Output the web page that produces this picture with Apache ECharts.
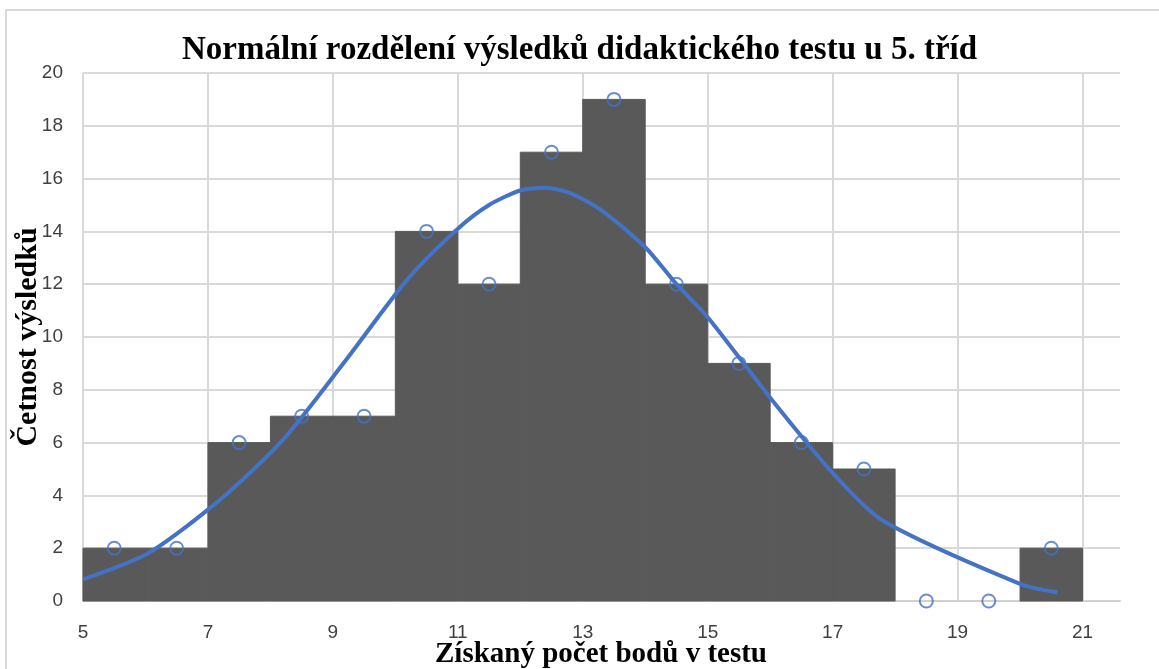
<!DOCTYPE html>
<html>
<head>
<meta charset="utf-8">
<script src="https://cdn.jsdelivr.net/npm/echarts@6/dist/echarts.min.js"></script>
<style>
  html, body { margin: 0; padding: 0; background: #fff; }
  #chart { width: 1159px; height: 669px; }
</style>
</head>
<body>
<div id="chart"></div>
<script>
// histogram classes (lower bound) and counts
var classStart = [5, 6, 7, 8, 9, 10, 11, 12, 13, 14, 15, 16, 17, 18, 19, 20];
var classCount = [2, 2, 6, 7, 7, 14, 12, 17, 19, 12, 9, 6, 5, 0, 0, 2];
// observed points (class midpoints)
var pointX = [5.5, 6.5, 7.5, 8.5, 9.5, 10.5, 11.5, 12.5, 13.5, 14.5, 15.5, 16.5, 17.5, 18.5, 19.5, 20.5];
// normal curve
var curveX = [5, 6.05, 7.2, 8.2, 9.2, 10.2, 11, 11.5, 12, 12.4, 12.8, 13.3, 14, 14.5, 15, 16, 17, 17.8, 20, 20.6];
var curveY = [0.82, 1.82, 3.85, 6.1, 9.1, 12.2, 14.1, 15.0, 15.55, 15.65, 15.45, 14.8, 13.4, 12.0, 10.75, 7.7, 4.85, 3.05, 0.65, 0.32];
var yTicks = [0, 2, 4, 6, 8, 10, 12, 14, 16, 18, 20];

var chart = echarts.init(document.getElementById('chart'));

var barData = classStart.map(function (s, i) { return [s, s + 1, classCount[i]]; });
var pointData = pointX.map(function (x, i) { return [x, classCount[i]]; });
var curveData = curveX.map(function (x, i) { return [x, curveY[i]]; });

var serif = '"Liberation Serif", "DejaVu Serif", serif';
var sans = '"Liberation Sans", "Noto Sans", sans-serif';

var option = {
  animation: false,
  backgroundColor: '#fff',
  title: {
    text: 'Normální rozdělení výsledků didaktického testu u 5. tříd',
    left: 'center',
    top: 29,
    textStyle: { fontFamily: serif, fontWeight: 'bold', fontSize: 33, color: '#000' }
  },
  graphic: [
    {
      type: 'rect',
      shape: { x: 6, y: 10, width: 1170, height: 680 },
      style: { fill: 'none', stroke: '#d9d9d9', lineWidth: 2 },
      silent: true
    },
    {
      // y axis title
      type: 'text',
      x: 28, y: 337,
      rotation: Math.PI / 2,
      style: {
        text: 'Četnost výsledků',
        fill: '#000',
        font: 'bold 30px ' + serif,
        align: 'center',
        verticalAlign: 'middle'
      }
    },
    {
      // x axis title
      type: 'text',
      x: 601, y: 655,
      style: {
        text: 'Získaný počet bodů v testu',
        fill: '#000',
        font: 'bold 29px ' + serif,
        align: 'center',
        verticalAlign: 'middle'
      }
    }
  ],
  grid: { left: 83, right: 39, top: 73, bottom: 68, containLabel: false, outerBoundsMode: 'none' },
  xAxis: {
    type: 'value',
    min: 5,
    max: 21.6,
    interval: 2,
    axisLine: { show: true, lineStyle: { color: '#d0d0d0', width: 2 } },
    axisTick: { show: false },
    axisLabel: { showMaxLabel: false, margin: 22, fontFamily: sans, fontSize: 19, color: '#404040' },
    splitLine: { show: true, showMaxLine: false, lineStyle: { color: '#d9d9d9', width: 2 } }
  },
  yAxis: {
    type: 'value',
    min: yTicks[0],
    max: yTicks[yTicks.length - 1],
    interval: 2,
    axisLine: { show: false },
    axisTick: { show: false },
    axisLabel: { margin: 20, fontFamily: sans, fontSize: 19, color: '#404040' },
    splitLine: { show: true, lineStyle: { color: '#d9d9d9', width: 2 } }
  },
  series: [
    {
      type: 'custom',
      data: barData,
      encode: { x: [0, 1], y: 2 },
      z: 2,
      renderItem: function (params, api) {
        if (!api.value(2)) return null;
        var p0 = api.coord([api.value(0), 0]);
        var p1 = api.coord([api.value(1), api.value(2)]);
        return {
          type: 'rect',
          shape: { x: p0[0], y: p1[1], width: p1[0] - p0[0], height: p0[1] - p1[1] },
          style: { fill: '#595959', stroke: '#595959', lineWidth: 1 }
        };
      }
    },
    {
      type: 'line',
      data: curveData,
      smooth: 0.25,
      showSymbol: false,
      z: 3,
      lineStyle: { color: '#4472c4', width: 4 }
    },
    {
      type: 'scatter',
      data: pointData,
      symbol: 'circle',
      symbolSize: 13,
      z: 4,
      itemStyle: { color: 'rgba(0,0,0,0)', borderColor: '#4472c4', borderWidth: 2 }
    }
  ]
};

chart.setOption(option);
</script>
</body>
</html>
